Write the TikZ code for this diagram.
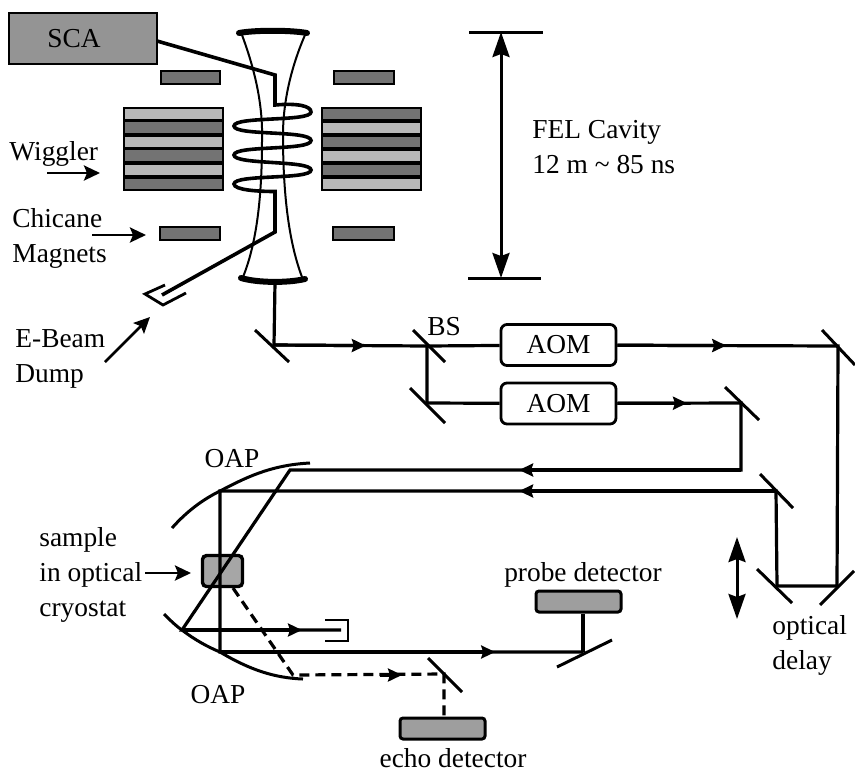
\documentclass[tikz,border=0pt]{standalone}
\usepackage{fontspec}
\setmainfont{Liberation Serif}
\usepackage{tikz}
\usetikzlibrary{arrows.meta, calc, positioning}
\tikzset{
    every node/.style={font=\fontsize{13.7}{17.3}\selectfont, inner sep=0pt},
    beam/.style={line width=1.6pt, black},
    beamtip/.style={line width=1.6pt, -{Stealth[length=7pt, width=6.5pt, inset=1pt]}},
    mirror/.style={line width=1.5pt, black},
    bigtip/.style={line width=1.4pt, -{Stealth[length=8pt, width=7.5pt, inset=1.5pt]}},
    dbltip/.style={line width=1.5pt, {Stealth[length=12.5pt, width=8.5pt, inset=1.5pt]}-{Stealth[length=12.5pt, width=8.5pt, inset=1.5pt]}},
    detector/.style={draw, line width=1.5pt, rounded corners=1.5pt, fill=black!38},
    aom/.style={draw, line width=1.4pt, rounded corners=3pt, minimum width=57.5pt, minimum height=20.5pt},
    darkbar/.style={fill=black!55, draw=black, line width=0.7pt},
    lightbar/.style={fill=black!28, draw=black, line width=0.7pt},
}
\begin{document}
\begin{tikzpicture}[x=0.5pt, y=-0.5pt]
    \useasboundingbox (0,0) rectangle (855,772);

    % SCA and electron beam
    \node[draw, line width=0.9pt, fill=black!42, minimum width=74pt, minimum height=25.5pt] (SCA) at (83,38.5) {};
    \node[anchor=base] (SCAtext) at (74,47) {SCA};
    \coordinate (e1) at (275,75);
    \coordinate (e2) at (275,105);
    \coordinate (e3) at (275,191.5);
    \coordinate (e4) at (275,232);
    \coordinate (e5) at (162,295);
    \draw[line width=1.8pt, line join=miter] (157,41) -- (e1) -- (e2)
        .. controls (298,103) and (311,106) .. (311,112)
        .. controls (311,122) and (234,116) .. (234,126)
        .. controls (234,136) and (311,130) .. (311,140.5)
        .. controls (311,151) and (234,145) .. (234,155)
        .. controls (234,165) and (311,160) .. (311,170)
        .. controls (311,180) and (234,174) .. (234,184)
        .. controls (234,190) and (258,191.5) .. (e3) -- (e4) -- (e5);

    % Cavity mirrors and mode
    \draw[line width=3pt, line cap=round] (239,33) .. controls (255,30) and (290,30) .. (307,33);
    \draw[line width=3pt, line cap=round] (241,278) .. controls (258,283) and (288,283) .. (305,279);
    \draw[line width=1pt] (242,35) .. controls (255,70) and (263,105) .. (262,140)
        .. controls (262,190) and (258,240) .. (243,277);
    \draw[line width=1pt] (305,35) .. controls (292,65) and (283,100) .. (283,135)
        .. controls (283,190) and (288,240) .. (302,277);

    % Chicane magnets
    \filldraw[darkbar] (161,71) rectangle (220,84);
    \filldraw[darkbar] (334,71) rectangle (394,84);
    \filldraw[darkbar] (160,227) rectangle (220,240);
    \filldraw[darkbar] (333,227) rectangle (394,240);

    % Wiggler
    \filldraw[lightbar] (124,108) rectangle (223,120);
    \filldraw[darkbar] (124,121) rectangle (223,134);
    \filldraw[lightbar] (124,136) rectangle (223,148);
    \filldraw[darkbar] (124,149) rectangle (223,162);
    \filldraw[lightbar] (124,164) rectangle (223,176);
    \filldraw[darkbar] (124,178) rectangle (223,190);
    \filldraw[darkbar] (322,108) rectangle (421,120);
    \filldraw[lightbar] (322,122) rectangle (421,134);
    \filldraw[darkbar] (322,136) rectangle (421,148);
    \filldraw[lightbar] (322,150) rectangle (421,162);
    \filldraw[darkbar] (322,164) rectangle (421,176);
    \filldraw[lightbar] (322,178) rectangle (421,190);

    % E-beam dump
    \draw[line width=1.4pt] (165,285) -- (145,294) -- (163,305) -- (186,293);

    % Labels on the left
    \node[anchor=base west] (wiggler) at (9,160) {Wiggler};
    \node[anchor=base west, align=left] (chicane) at (12,262) {Chicane\\Magnets};
    \node[anchor=base west, align=left] (dump) at (15,382) {E-Beam\\Dump};
    \coordinate (w1) at (47,173);
    \coordinate (w2) at (100,173);
    \coordinate (c1) at (92,235);
    \coordinate (c2) at (146,235);
    \coordinate (d1) at (105,362);
    \coordinate (d2) at (150,317);
    \draw[bigtip] (w1) -- (w2);
    \draw[bigtip] (c1) -- (c2);
    \draw[bigtip] (d1) -- (d2);

    % Cavity length
    \coordinate (L1) at (501,32);
    \coordinate (L2) at (501,278);
    \draw[line width=1.5pt] (469,32) -- (543,32);
    \draw[line width=1.5pt] (468,278) -- (541,278);
    \draw[dbltip] (L1) -- (L2);
    \node[anchor=base west, align=left] (fel) at (532,173) {FEL Cavity\\12 m \textasciitilde{} 85 ns};

    % Mirrors and beam splitter
    \coordinate (M1) at (274,345);
    \coordinate (BS) at (427,346);
    \coordinate (M2) at (427,403);
    \coordinate (M3) at (838,346);
    \coordinate (M4) at (741,403);
    \coordinate (M5) at (837,586);
    \coordinate (M6) at (777,586);
    \coordinate (M7) at (776,491);
    \coordinate (M8) at (583,652);
    \coordinate (M9) at (444,674);
    \draw[mirror] ($(M1)+(-19,-15)$) -- ($(M1)+(15,17)$);
    \draw[mirror] ($(BS)+(-14,-16)$) -- ($(BS)+(18,16)$);
    \draw[mirror] ($(M2)+(-17,-15)$) -- ($(M2)+(18,20)$);
    \draw[mirror] ($(M3)+(-16,-16)$) -- ($(M3)+(17,19)$);
    \draw[mirror] ($(M4)+(-16,-16)$) -- ($(M4)+(18,17)$);
    \draw[mirror] ($(M5)+(-17,19)$) -- ($(M5)+(17,-15)$);
    \draw[mirror] ($(M6)+(-20,-17)$) -- ($(M6)+(15,17)$);
    \draw[mirror] ($(M7)+(-16,-17)$) -- ($(M7)+(17,17)$);
    \draw[mirror] ($(M8)+(-26,15)$) -- ($(M8)+(29,-12)$);
    \draw[mirror] ($(M9)+(-16,-16)$) -- ($(M9)+(18,18)$);
    \node[anchor=base] (BStext) at (444,335) {BS};

    % AOMs
    \node[aom] (AOM1) at (558.5,345) {AOM};
    \node[aom] (AOM2) at (558.5,403.5) {AOM};

    % Curved mirrors
    \coordinate (F1) at (290,470);
    \coordinate (F2) at (220,491);
    \coordinate (F3) at (182,630);
    \coordinate (F4) at (220,652);
    \draw[line width=1.5pt] (172,528) .. controls (188,510) and (204,499) .. (F2)
        .. controls (245,478) and (270,465) .. (310,463);
    \draw[line width=1.5pt] (164,614) .. controls (170,620) and (176,626) .. (F3)
        .. controls (195,640) and (208,647) .. (F4)
        .. controls (250,670) and (275,678) .. (303,679);
    \node[anchor=base] (OAPtop) at (232,467) {OAP};
    \node[anchor=base] (OAPbot) at (218,703) {OAP};

    % Sample
    \node[draw, line width=1.7pt, rounded corners=2pt, fill=black!35, minimum width=20pt, minimum height=15.5pt] (sample) at (222.5,571) {};
    \node[anchor=base west, align=left] (samplelabel) at (39,616) {sample\\in optical\\cryostat};
    \coordinate (s1) at (145,573);
    \coordinate (s2) at (191,573);
    \draw[bigtip] (s1) -- (s2);

    % Detectors
    \node[detector, minimum width=42.5pt, minimum height=10.5pt] (probe) at (578.5,601.5) {};
    \node[anchor=base] (probetext) at (583,581) {probe detector};
    \node[detector, minimum width=42.5pt, minimum height=10.5pt] (echo) at (442.5,728.5) {};
    \node[anchor=base] (echotext) at (453,767) {echo detector};

    % Beam paths
    \draw[beam] (275,282) -- (M1) -- (BS) -- (AOM1);
    \draw[beamtip] (M1) -- ($(M1)!0.6!(BS)$);
    \draw[beam] (BS) -- (M2) -- (AOM2);
    \draw[beam] (AOM1) -- (M3) -- (M5) -- (M6) -- (M7) -- (F2) -- (F4) -- (M8);
    \draw[beamtip] (AOM1) -- ($(AOM1)!0.6!(M3)$);
    \draw[beamtip] (M7) -- ($(M7)!0.462!(F2)$);
    \draw[beamtip] (F4) -- ($(F4)!0.758!(M8)$);
    \coordinate (T1) at (741,470);
    \draw[beam] (AOM2) -- (M4) -- (T1) -- (F1) -- (F3) -- (341,630);
    \draw[beamtip] (AOM2) -- ($(AOM2)!0.704!(M4)$);
    \draw[beamtip] (T1) -- ($(T1)!0.492!(F1)$);
    \draw[beamtip] (F3) -- (302,630);
    \draw[beam] (M8) -- (M8 |- probe.south);

    % Beam stop
    \draw[line width=1.4pt] (325,620) -- (348,620) -- (348,641) -- (325,641);

    % Echo path
    \coordinate (D1) at (233,588);
    \coordinate (D2) at (293,675);
    \draw[beam, dash pattern=on 5pt off 3pt] (D1) -- (D2) -- (M9) -- (M9 |- echo.north);
    \coordinate (D3) at (380,675);
    \coordinate (D4) at (402,675);
    \draw[beamtip] (D3) -- (D4);

    % Optical delay
    \coordinate (Y1) at (737,537);
    \coordinate (Y2) at (737,619);
    \draw[dbltip] (Y1) -- (Y2);
    \node[anchor=base west, align=left] (delay) at (772,669) {optical\\delay};
\end{tikzpicture}
\end{document}
